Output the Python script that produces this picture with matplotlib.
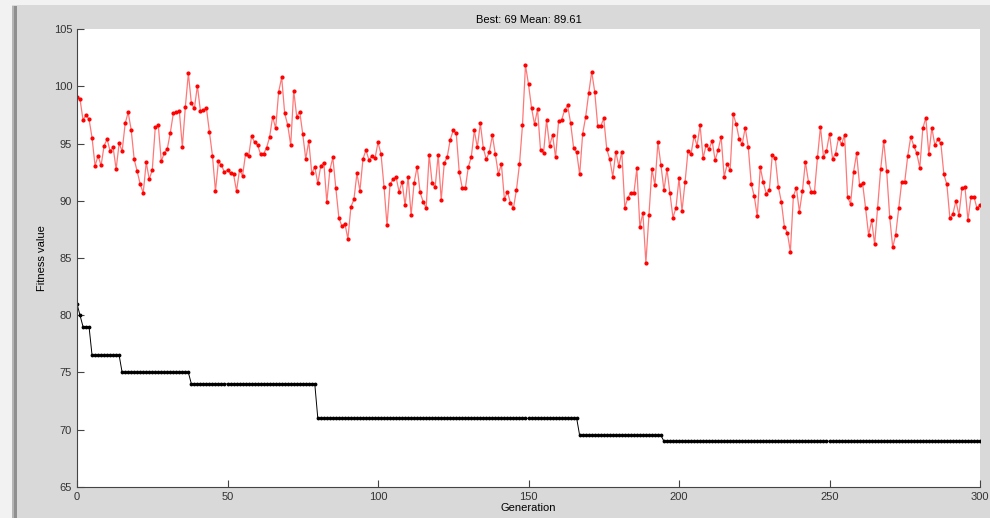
import numpy as np
import matplotlib
matplotlib.use("Agg")
import matplotlib.pyplot as plt
from matplotlib.patches import Rectangle

# mean fitness per generation (0..300)
mean_fitness = [
    99.08, 98.88, 97.05, 97.48, 97.13, 95.50, 93.05, 93.93, 93.08, 94.80,
    95.38, 94.34, 94.66, 92.76, 95.01, 94.34, 96.75, 97.72, 96.20, 93.61,
    92.56, 91.45, 90.69, 93.35, 91.89, 92.67, 96.40, 96.61, 93.46, 94.16,
    94.54, 95.94,
    97.63, 97.72, 97.83, 94.72, 98.21, 101.13, 98.50, 98.07, 100.05, 97.83,
    97.92, 98.07, 95.97, 93.93, 90.84, 93.46, 93.11, 92.47, 92.71, 92.39,
    92.33, 90.84, 92.71, 92.18, 94.08, 93.87, 95.65, 95.10, 94.86, 94.05,
    94.10, 94.63, 95.59, 97.34, 96.32, 99.52, 100.78, 97.63, 96.61, 94.86,
    99.61, 97.34, 97.78, 95.82, 93.64, 95.21, 92.39, 92.97, 91.51, 93.06,
    93.32, 89.88, 92.68, 93.78, 91.07, 88.51, 87.78, 88.01, 86.67, 89.47,
    90.11, 92.39, 90.87, 93.64, 94.43, 93.55, 93.93, 93.70, 95.10, 94.08,
    91.22, 87.84, 91.45, 91.86, 92.07, 90.78, 91.66, 89.59, 92.10, 88.74,
    91.57, 92.97, 90.73, 89.91, 89.36, 94.02, 91.51, 91.22, 94.02, 90.05,
    93.26, 93.84, 95.33, 96.14, 95.88, 92.47, 91.13, 91.07, 92.94, 93.84,
    96.14, 94.66, 96.76, 94.57, 93.61, 94.28, 95.71, 94.05, 92.33, 93.20,
    90.14, 90.78, 89.82, 89.36, 90.96, 93.17, 96.61, 101.85, 100.16, 98.13,
    96.67, 97.98, 94.43, 94.19, 97.05, 94.80, 95.76, 93.78, 96.96, 97.05,
    97.92, 98.33, 96.76, 94.60, 94.22, 92.30, 95.85, 97.34, 99.38, 101.27,
    99.52, 96.52, 96.52, 97.19, 94.51, 93.61, 92.09, 94.28, 93.03,
    94.28, 89.41, 90.26, 90.70, 90.64, 92.82, 87.70, 88.95, 84.58, 88.74,
    92.76, 91.37, 95.12, 93.11, 90.93, 92.76, 90.64, 88.51, 89.41, 91.95,
    89.12, 91.60, 94.37, 94.08, 95.68, 94.80, 96.61, 93.70, 94.86, 94.51,
    95.24, 93.55, 94.43, 95.59, 92.09, 93.17, 92.71, 97.57, 96.70, 95.39,
    94.95, 96.38, 94.72, 91.45, 90.40, 88.65, 92.94, 91.60, 90.61, 90.90,
    94.02, 93.70, 91.22, 89.91, 87.75, 87.20, 85.54, 90.40, 91.13, 89.04,
    90.84, 93.40, 91.66, 90.78, 90.75, 93.78, 96.46, 93.84, 94.34, 95.85,
    93.67, 94.10, 95.50, 94.92, 95.74, 90.31, 89.73, 92.53, 94.13, 91.37,
    91.51, 89.33, 86.99, 88.30, 86.18, 89.41, 92.74, 95.24, 92.56, 88.59,
    85.92, 87.05, 89.36, 91.66, 91.66, 93.93, 95.59, 94.80, 94.13, 92.88,
    96.32, 97.25, 94.08, 96.38, 94.86, 95.39, 95.01, 92.30, 91.42, 88.45,
    88.86, 89.99, 88.74, 91.07, 91.22, 88.30, 90.34, 90.34, 89.33, 89.62,
]

# best fitness: levels and how many generations each level holds
best_levels = [81, 80, 79, 76.5, 75, 74, 71, 69.5, 69]
best_counts = [1, 1, 3, 10, 23, 42, 87, 28, 106]

best_fitness = np.repeat(best_levels, best_counts)
generations = np.arange(len(mean_fitness))

fig = plt.figure(figsize=(9.9, 5.18), dpi=100, facecolor="#d9d9d9")

# window frame / shadow on the left and top
fig.patches.append(Rectangle((0, 0), 12 / 990, 1, transform=fig.transFigure,
                             facecolor="#f2f2f2", edgecolor="none", zorder=0))
fig.patches.append(Rectangle((12 / 990, 0), 2 / 990, 1 - 6 / 518, transform=fig.transFigure,
                             facecolor="#b5b5b5", edgecolor="none", zorder=0))
fig.patches.append(Rectangle((14 / 990, 0), 3 / 990, 1 - 6 / 518, transform=fig.transFigure,
                             facecolor="#8f8f8f", edgecolor="none", zorder=0))
fig.patches.append(Rectangle((0, 1 - 5 / 518), 1, 5 / 518, transform=fig.transFigure,
                             facecolor="#f2f2f2", edgecolor="none", zorder=0))

ax = fig.add_axes([77 / 990, 1 - 487 / 518, 903 / 990, 458 / 518])
ax.set_facecolor("white")

ax.plot(generations, mean_fitness, color="#ff3030", lw=0.9, alpha=0.65)
ax.plot(generations, mean_fitness, ".", color="#ff0000", ms=4)
ax.plot(generations, best_fitness, color="black", lw=0.7)
ax.plot(generations, best_fitness, ".", color="black", ms=3.5)

ax.set_xlim(0, 300)
ax.set_ylim(65, 105)
ax.set_xticks([0, 50, 100, 150, 200, 250, 300])
ax.set_yticks([65, 70, 75, 80, 85, 90, 95, 100, 105])

for side in ["top", "right"]:
    ax.spines[side].set_visible(False)
for side in ["left", "bottom"]:
    ax.spines[side].set_color("#444444")
    ax.spines[side].set_linewidth(0.8)

ax.tick_params(direction="in", length=5, width=0.8, color="#444444",
               labelsize=8, labelcolor="#333333")
for lab in ax.get_xticklabels() + ax.get_yticklabels():
    lab.set_family("Liberation Sans")

ax.set_title("Best: 69 Mean: 89.61", fontsize=8, family="Liberation Sans", pad=4)
ax.set_xlabel("Generation", fontsize=8, family="Liberation Sans", labelpad=1)
ax.set_ylabel("Fitness value", fontsize=8, family="Liberation Sans", labelpad=5)

fig.savefig("out.png", dpi=100, facecolor=fig.get_facecolor())
